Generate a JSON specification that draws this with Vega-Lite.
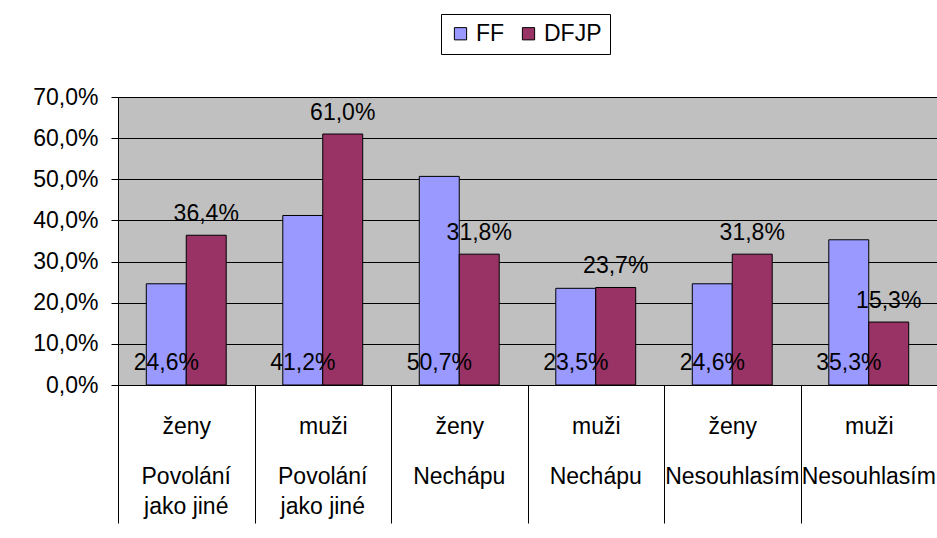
{
  "$schema": "https://vega.github.io/schema/vega-lite/v6.json",
  "width": 819,
  "height": 288,
  "autosize": {"type": "none"},
  "padding": {"left": 118, "top": 97, "right": 0, "bottom": 153},
  "background": "white",
  "config": {
    "locale": {"number": {"decimal": ",", "thousands": " ", "grouping": [3], "currency": ["", " Kč"]}},
    "font": "Liberation Sans",
    "view": {"stroke": "#808080", "fill": "#C0C0C0"},
    "axis": {"labelFont": "Liberation Sans", "labelFontSize": 23, "labelColor": "black", "domainColor": "black", "tickColor": "black", "gridColor": "black", "gridOpacity": 1, "domainOpacity": 1, "tickOpacity": 1}
  },
  "data": {"values": [
    {"skupina": "ženy|Povolání|jako jiné", "serie": "FF", "hodnota": 0.246},
    {"skupina": "ženy|Povolání|jako jiné", "serie": "DFJP", "hodnota": 0.364},
    {"skupina": "muži|Povolání|jako jiné", "serie": "FF", "hodnota": 0.412},
    {"skupina": "muži|Povolání|jako jiné", "serie": "DFJP", "hodnota": 0.610},
    {"skupina": "ženy|Nechápu", "serie": "FF", "hodnota": 0.507},
    {"skupina": "ženy|Nechápu", "serie": "DFJP", "hodnota": 0.318},
    {"skupina": "muži|Nechápu", "serie": "FF", "hodnota": 0.235},
    {"skupina": "muži|Nechápu", "serie": "DFJP", "hodnota": 0.237},
    {"skupina": "ženy|Nesouhlasím", "serie": "FF", "hodnota": 0.246},
    {"skupina": "ženy|Nesouhlasím", "serie": "DFJP", "hodnota": 0.318},
    {"skupina": "muži|Nesouhlasím", "serie": "FF", "hodnota": 0.353},
    {"skupina": "muži|Nesouhlasím", "serie": "DFJP", "hodnota": 0.153}
  ]},
  "resolve": {"axis": {"x": "independent"}},
  "layer": [
    {
      "mark": {"type": "bar", "stroke": "black", "strokeWidth": 1},
      "encoding": {
        "x": {"field": "skupina", "type": "nominal", "sort": null, "title": null,
          "scale": {"paddingInner": 0, "paddingOuter": 0},
          "axis": {"orient": "bottom", "labelAngle": 0, "tickBand": "extent", "tickSize": 138, "labelBaseline": "alphabetic", "labelPadding": -90, "labelExpr": "split(datum.label, '|')[0]", "labelLimit": 0}},
        "xOffset": {"field": "serie", "type": "nominal", "sort": ["FF", "DFJP"], "scale": {"paddingInner": 0, "paddingOuter": 0.708}},
        "y": {"field": "hodnota", "type": "quantitative", "title": null,
          "scale": {"domain": [0, 0.7]},
          "axis": {"values": [0, 0.1, 0.2, 0.3, 0.4, 0.5, 0.6, 0.7], "format": ".1%", "tickSize": 7, "labelPadding": 13, "grid": true}},
        "color": {"field": "serie", "type": "nominal", "sort": ["FF", "DFJP"],
          "scale": {"domain": ["FF", "DFJP"], "range": ["#9999FF", "#993366"]},
          "legend": {"title": null, "orient": "none", "legendX": 323, "legendY": -83, "direction": "horizontal", "strokeColor": "black", "fillColor": "white", "padding": 8, "symbolType": "square", "symbolSize": 150, "symbolStrokeColor": "black", "symbolStrokeWidth": 1, "labelFontSize": 23, "labelFont": "Liberation Sans", "labelColor": "black", "columnPadding": 12, "labelOffset": 4}}
      }
    },
    {
      "transform": [{"filter": "datum.serie == 'FF'"}],
      "mark": {"type": "text", "baseline": "alphabetic", "dy": -15, "fontSize": 23, "font": "Liberation Sans", "color": "black"},
      "encoding": {
        "x": {"field": "skupina", "type": "nominal", "sort": null, "title": null,
          "axis": {"orient": "bottom", "labelAngle": 0, "ticks": false, "domain": false, "labelBaseline": "alphabetic", "labelPadding": 98, "labelLineHeight": 30, "labelExpr": "slice(split(datum.label, '|'), 1)", "labelLimit": 0}},
        "xOffset": {"field": "serie", "type": "nominal", "sort": ["FF", "DFJP"]},
        "y": {"datum": 0},
        "text": {"field": "hodnota", "type": "quantitative", "format": ".1%"}
      }
    },
    {
      "transform": [{"filter": "datum.serie == 'DFJP'"}],
      "mark": {"type": "text", "baseline": "alphabetic", "dy": -14, "fontSize": 23, "font": "Liberation Sans", "color": "black"},
      "encoding": {
        "x": {"field": "skupina", "type": "nominal", "sort": null, "axis": null},
        "xOffset": {"field": "serie", "type": "nominal", "sort": ["FF", "DFJP"]},
        "y": {"field": "hodnota", "type": "quantitative"},
        "text": {"field": "hodnota", "type": "quantitative", "format": ".1%"}
      }
    }
  ]
}
